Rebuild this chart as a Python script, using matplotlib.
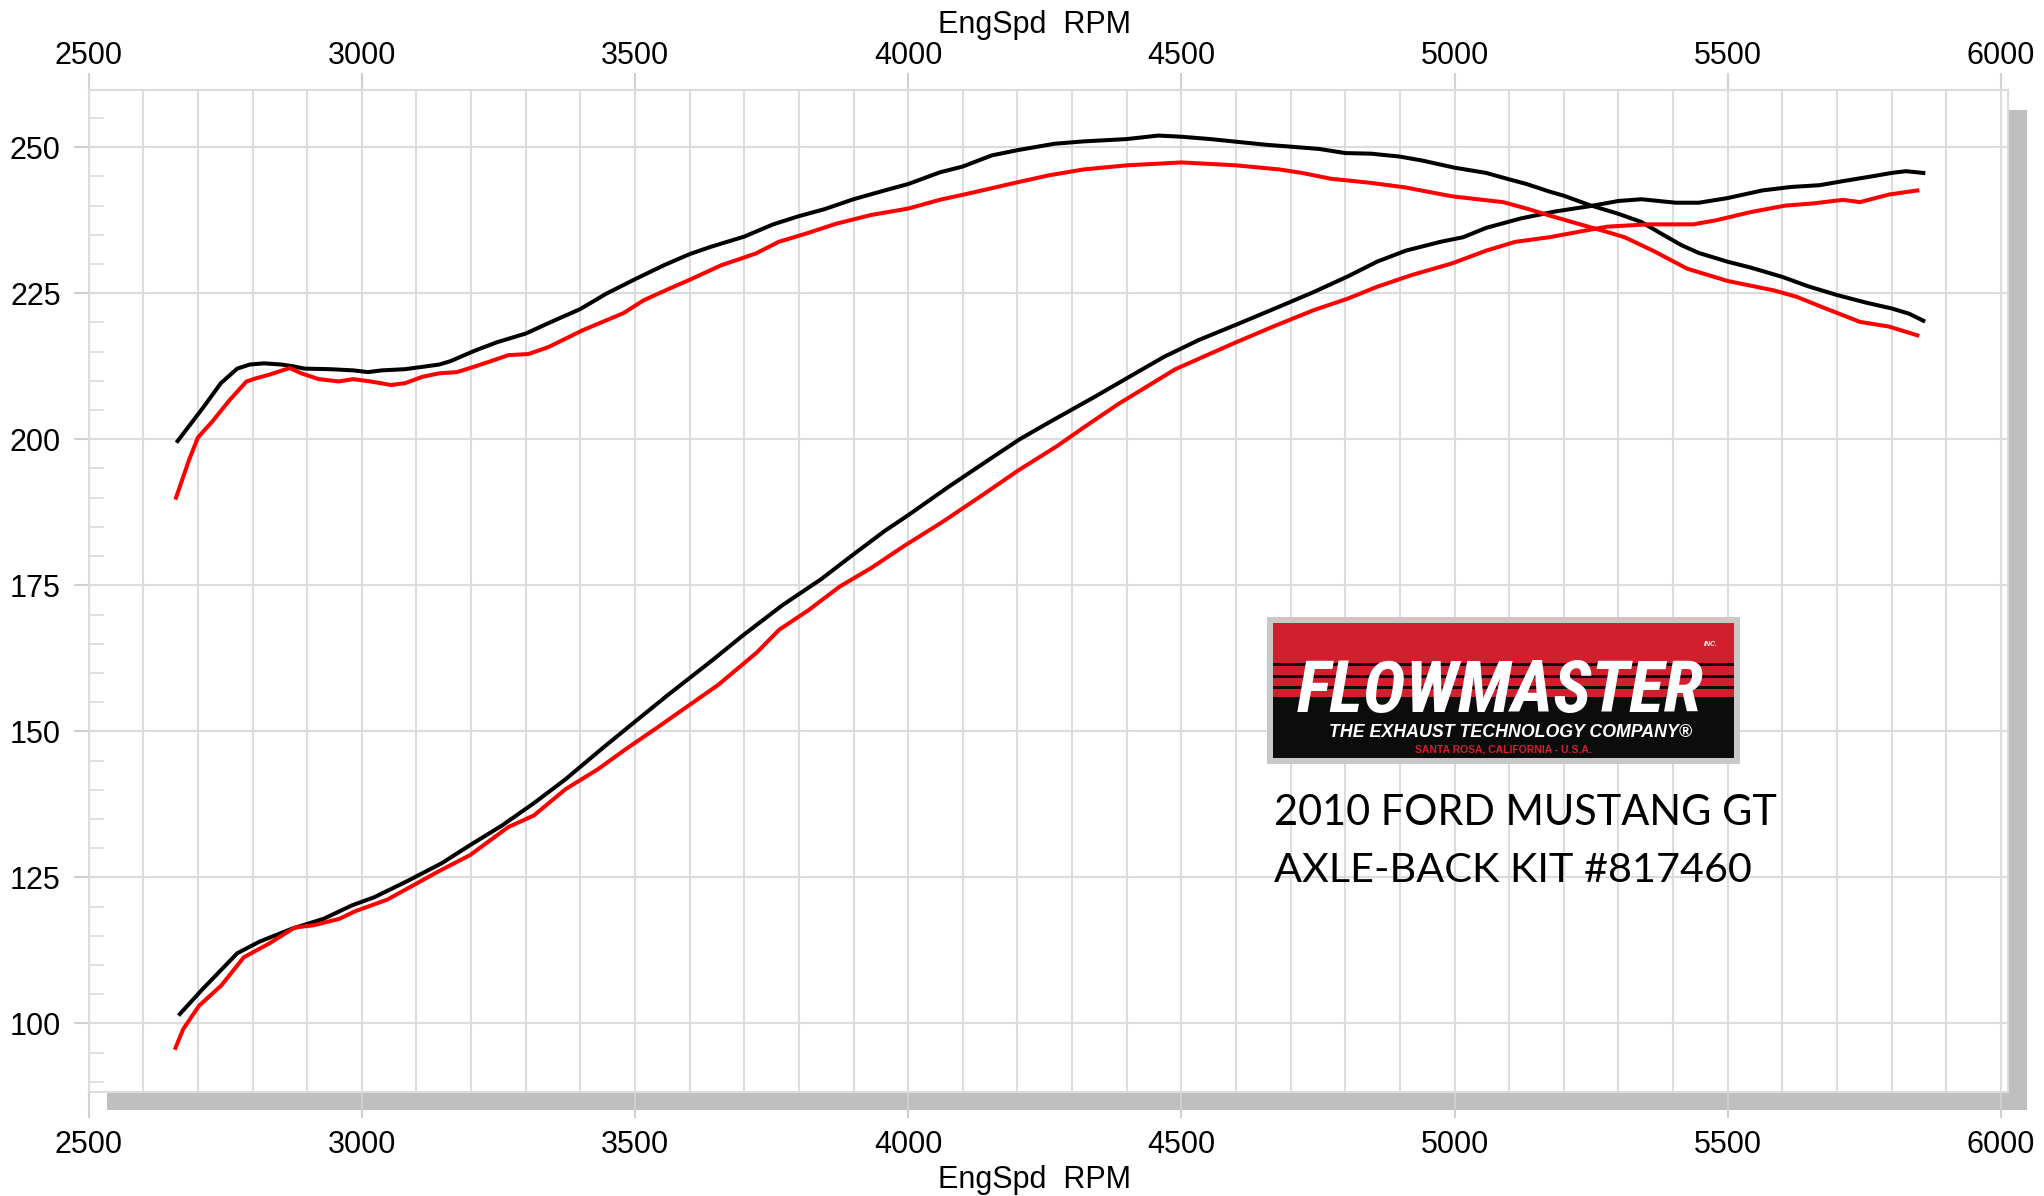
import matplotlib
matplotlib.use('Agg')
import matplotlib.pyplot as plt
from matplotlib.patches import Rectangle
from matplotlib import font_manager

# figure size in pixels (dpi 100)
W, H = 2044, 1196

# black run - torque (lb-ft)
BLACK_TQ_RPM = [2663, 2711, 2742, 2772, 2795, 2821, 2853, 2874, 2895, 2942,
                2984, 3011, 3037, 3079, 3111, 3142, 3163, 3205, 3247, 3300,
                3342, 3400, 3447, 3500, 3553, 3600, 3637, 3700, 3753, 3800,
                3847, 3900, 3953, 4000, 4058, 4100, 4153, 4200, 4268, 4321,
                4400, 4458, 4500, 4553, 4605, 4658, 4700, 4753, 4800, 4847,
                4900, 4942, 5000, 5058, 5100, 5132, 5174, 5200, 5247, 5300,
                5342, 5384, 5416, 5447, 5500, 5542, 5600, 5647, 5700, 5753,
                5800, 5832, 5858]
BLACK_TQ = [199.7, 205.6, 209.6, 212.1, 212.8, 213.0, 212.8, 212.5, 212.1, 212.0,
            211.8, 211.5, 211.8, 212.0, 212.4, 212.8, 213.4, 215.1, 216.6, 218.1,
            219.9, 222.3, 224.9, 227.4, 229.8, 231.7, 232.9, 234.7, 236.8, 238.2,
            239.4, 241.1, 242.5, 243.7, 245.7, 246.7, 248.6, 249.5, 250.6, 251.0,
            251.4, 252.0, 251.8, 251.4, 250.9, 250.4, 250.1, 249.7, 249.0, 248.9,
            248.4, 247.7, 246.5, 245.6, 244.5, 243.7, 242.4, 241.7, 240.1, 238.6,
            237.2, 234.9, 233.2, 231.9, 230.4, 229.4, 227.8, 226.2, 224.7, 223.4,
            222.4, 221.5, 220.3]

# red run - torque (lb-ft)
RED_TQ_RPM = [2660, 2684, 2700, 2726, 2758, 2789, 2805, 2832, 2868, 2889,
              2921, 2958, 2984, 3016, 3053, 3079, 3111, 3142, 3174, 3205,
              3237, 3268, 3305, 3342, 3405, 3479, 3516, 3563, 3600, 3658,
              3721, 3763, 3816, 3868, 3932, 4000, 4058, 4121, 4200, 4258,
              4321, 4400, 4500, 4600, 4679, 4721, 4774, 4847, 4911, 4995,
              5089, 5132, 5174, 5226, 5279, 5311, 5363, 5426, 5500, 5584,
              5626, 5679, 5742, 5795, 5847]
RED_TQ = [190.0, 196.5, 200.3, 203.0, 206.7, 209.9, 210.4, 211.1, 212.2, 211.3,
          210.3, 209.9, 210.3, 209.9, 209.3, 209.6, 210.7, 211.3, 211.5, 212.4,
          213.4, 214.4, 214.6, 215.8, 218.7, 221.6, 223.8, 225.8, 227.3, 229.8,
          231.8, 233.8, 235.3, 236.9, 238.4, 239.5, 241.0, 242.3, 244.0, 245.2,
          246.2, 246.9, 247.4, 246.9, 246.2, 245.6, 244.6, 243.9, 243.1, 241.6,
          240.6, 239.5, 238.3, 236.9, 235.5, 234.6, 232.3, 229.2, 227.1, 225.5,
          224.4, 222.4, 220.1, 219.3, 217.8]

# black run - horsepower
BLACK_HP_RPM = [2667, 2708, 2772, 2813, 2872, 2930, 2982, 3023, 3082, 3146,
                3198, 3257, 3315, 3373, 3443, 3502, 3560, 3642, 3700, 3770,
                3840, 3900, 3957, 4000, 4073, 4143, 4204, 4258, 4342, 4416,
                4468, 4532, 4605, 4679, 4742, 4805, 4858, 4911, 4974, 5016,
                5058, 5121, 5184, 5247, 5300, 5342, 5405, 5447, 5500, 5563,
                5616, 5668, 5711, 5763, 5800, 5826, 5858]
BLACK_HP = [101.6, 105.8, 112.0, 114.0, 116.2, 117.9, 120.2, 121.6, 124.3, 127.4,
            130.5, 133.9, 137.7, 141.8, 147.3, 151.8, 156.2, 162.2, 166.6, 171.6,
            176.0, 180.3, 184.3, 187.0, 191.8, 196.2, 200.0, 202.9, 207.3, 211.3,
            214.1, 217.0, 219.8, 222.7, 225.2, 227.9, 230.4, 232.3, 233.8, 234.6,
            236.2, 237.8, 239.0, 239.9, 240.8, 241.1, 240.5, 240.5, 241.3, 242.6,
            243.2, 243.5, 244.2, 245.0, 245.6, 245.9, 245.6]

# red run - horsepower
RED_HP_RPM = [2659, 2673, 2702, 2743, 2784, 2831, 2877, 2912, 2959, 2988,
              3047, 3082, 3140, 3198, 3268, 3315, 3373, 3432, 3484, 3537,
              3595, 3653, 3723, 3764, 3817, 3875, 3933, 3992, 4062, 4132,
              4202, 4272, 4321, 4384, 4489, 4595, 4668, 4742, 4805, 4858,
              4921, 4995, 5058, 5111, 5174, 5226, 5279, 5353, 5437, 5479,
              5542, 5605, 5658, 5711, 5742, 5795, 5847]
RED_HP = [95.8, 99.0, 103.0, 106.5, 111.3, 113.7, 116.4, 116.8, 117.9, 119.2,
          121.2, 123.0, 126.0, 128.8, 133.6, 135.6, 140.1, 143.5, 147.0, 150.4,
          154.2, 158.0, 163.5, 167.4, 170.7, 174.8, 178.0, 181.7, 185.8, 190.2,
          194.7, 198.8, 202.0, 206.0, 212.0, 216.4, 219.3, 222.1, 224.1, 226.1,
          228.1, 230.1, 232.3, 233.8, 234.6, 235.5, 236.4, 236.8, 236.8, 237.5,
          238.9, 240.0, 240.4, 241.0, 240.6, 241.9, 242.6]

X_MAJOR = list(range(2500, 6001, 500))
X_MINOR = list(range(2500, 6001, 100))
Y_MAJOR = list(range(100, 251, 25))
Y_MINOR = list(range(90, 260, 5))

X_LABEL = 'EngSpd  RPM'
CAPTION = ['2010 FORD MUSTANG GT', 'AXLE-BACK KIT #817460']

GRID = '#dcdcdc'
TICK = '#d0d0d0'
LOGO_RED = '#d21f2d'

plt.rcParams['font.family'] = ['Liberation Sans', 'DejaVu Sans']


def fx(px):
    return px / W


def fy(py):
    return 1 - py / H


def pick_font(candidates):
    installed = {f.name for f in font_manager.fontManager.ttflist}
    for name in candidates:
        if name in installed:
            return name
    return 'DejaVu Sans'


def fit_width(fig, text, width_px):
    '''Scale a text's font size so it spans width_px pixels.'''
    renderer = fig.canvas.get_renderer()
    current = text.get_window_extent(renderer).width
    text.set_fontsize(text.get_fontsize() * width_px / current)


def box(fig, x0, y0, x1, y1, color, zorder):
    fig.add_artist(Rectangle((fx(x0), fy(y1)), (x1 - x0) / W, (y1 - y0) / H,
                             transform=fig.transFigure, facecolor=color,
                             edgecolor='none', zorder=zorder))


def draw_logo(fig):
    box(fig, 1267, 617, 1740, 764, '#c8c8c8', 5)
    box(fig, 1273, 623, 1734, 758, '#0c0c0c', 5.1)
    box(fig, 1273, 623, 1734, 697, LOGO_RED, 5.2)
    for y in (663, 675, 686):
        box(fig, 1273, y, 1734, y + 3, '#0c0c0c', 5.3)

    bold_font = pick_font(['Roboto Condensed', 'Liberation Sans Narrow', 'Liberation Sans'])
    name = fig.text(fx(1297), fy(712), 'FLOWMASTER', ha='left', va='baseline',
                    color='white', fontweight='bold', fontstyle='italic',
                    family=bold_font, fontsize=40, zorder=6)
    fit_width(fig, name, 406)
    fig.text(fx(1704), fy(646), 'INC.', ha='left', va='baseline', color='white',
             fontweight='bold', fontstyle='italic', fontsize=5, zorder=6)
    motto = fig.text(fx(1329), fy(737), 'THE EXHAUST TECHNOLOGY COMPANY\u00ae',
                     ha='left', va='baseline', color='white', fontweight='bold',
                     fontstyle='italic', fontsize=12, zorder=6)
    fit_width(fig, motto, 361)
    town = fig.text(fx(1415), fy(753), 'SANTA ROSA, CALIFORNIA - U.S.A.',
                    ha='left', va='baseline', color=LOGO_RED, fontweight='bold',
                    fontsize=7, zorder=6)
    fit_width(fig, town, 177)


fig = plt.figure(figsize=(W / 100, H / 100), dpi=100)
ax = fig.add_axes([fx(88.6), fy(1091.7), (2008 - 88.6) / W, (1091.7 - 90) / H])

# drop shadow behind the plot box
box(fig, 107, 110, 2027, 1110, '#bfbfbf', -1)

ax.plot(BLACK_TQ_RPM, BLACK_TQ, color='black', lw=2.9, zorder=3)
ax.plot(BLACK_HP_RPM, BLACK_HP, color='black', lw=2.9, zorder=3)
ax.plot(RED_TQ_RPM, RED_TQ, color='#ff0000', lw=2.9, zorder=4)
ax.plot(RED_HP_RPM, RED_HP, color='#ff0000', lw=2.9, zorder=4)

ax.set_xlim(2500, 6013)
ax.set_ylim(88.3, 259.8)
ax.set_xticks(X_MAJOR)
ax.set_xticks(X_MINOR, minor=True)
ax.set_yticks(Y_MAJOR)
ax.set_yticks(Y_MINOR, minor=True)
ax.set_axisbelow(True)
ax.grid(axis='x', which='both', color=GRID, lw=1.5)
ax.grid(axis='y', which='major', color=GRID, lw=1.5)
ax.tick_params(axis='x', which='major', length=18.7, width=1.5, color=TICK,
               pad=9, labelsize=22)
ax.tick_params(axis='x', which='minor', length=0)
ax.tick_params(axis='y', which='major', length=11, width=1.5, color=TICK,
               pad=9, labelsize=22)
ax.tick_params(axis='y', which='minor', direction='in', length=11, width=1.2,
               color=GRID)
for spine in ax.spines.values():
    spine.set_color(GRID)
    spine.set_linewidth(1.5)

top = ax.secondary_xaxis('top')
top.set_xticks(X_MAJOR)
top.tick_params(axis='x', length=12.2, width=1.5, color=TICK, pad=1.2, labelsize=22)
top.spines['top'].set_visible(False)

fig.text(fx(1034), fy(25), X_LABEL, ha='center', va='center', fontsize=22)
fig.text(fx(1034), fy(1180), X_LABEL, ha='center', va='center', fontsize=22)

draw_logo(fig)

caption_font = pick_font(['Lato', 'Open Sans'])
for line, baseline in zip(CAPTION, (825, 882)):
    t = fig.text(fx(1274), fy(baseline), line, ha='left', va='baseline',
                 family=caption_font, fontsize=31, color='black', zorder=6)
fit_width(fig, fig.texts[-2], 502)
fit_width(fig, fig.texts[-1], 476)

fig.savefig('out.png', dpi=100)
